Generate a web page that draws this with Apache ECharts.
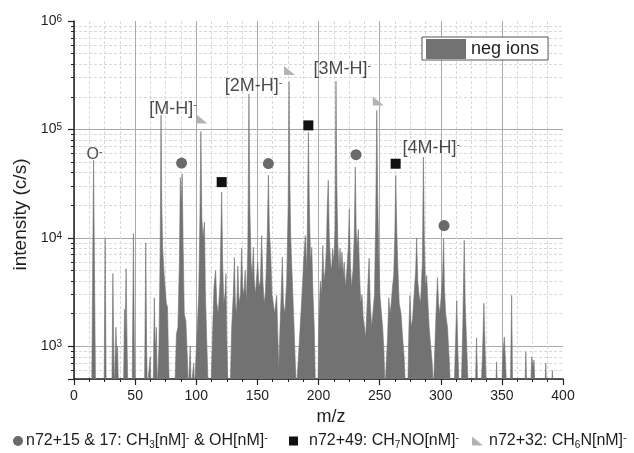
<!DOCTYPE html>
<html>
<head>
<meta charset="utf-8">
<script src="https://cdn.jsdelivr.net/npm/echarts@6/dist/echarts.min.js"></script>
<style>html,body{margin:0;padding:0;background:#fff;}#c{width:634px;height:453px;}</style>
</head>
<body>
<div id="c"></div>
<script>
// ---- data (m/z, intensity c/s) ----
var specA = [
  [14.5,400],[16,52000],[16.6,8000],[17,7700],[17.6,400],
  [24.6,400],[25.5,10000],[26.3,400],
  [31,400],[31.8,4700],[32.4,1200],[33,400],
  [33.6,400],[34.3,1500],[35,800],[35.6,1000],[36.4,400],
  [40.5,400],[41.3,2200],[41.8,1200],[42.6,5200],[43.2,1500],[44,400],
  [47.6,400],[48.6,11000],[49.3,1200],[50,400],
  [57.7,400],[58.7,9000],[59.4,1000],[60,400],
  [61.6,400],[62.3,800],[63,400],
  [64.8,400],[65.7,2800],[66.5,900],[67.4,1500],[68.1,400],
  [68.4,400],[69.5,1000],[70.5,8000],[71.2,135000],[71.8,20000],[72.5,8200],[73.5,5000],[74.5,3500],[75.5,2500],[76.5,2300],[77.3,800],[78,400],
  [82.5,400],[83.8,1300],[85,1500],[86.2,6000],[87,36000],[87.8,20000],[88.5,39000],[89.3,8000],[90.2,2000],[91.5,1700],[92.7,800],[93.5,400],
  [94.3,400],[95.1,1000],[95.8,400],
  [97.3,400],[97.9,700],[98.5,400]
];
var specB = [
  [99,400],[100.5,1200],[102,3000],[103,15000],[103.8,96000],[104.6,15000],[105.5,10000],[106.7,14000],[107.5,3000],[108.5,1200],[109.8,400],
  [112,400],[113.5,1500],[114.5,3500],[115.8,5000],[116.8,2500],[118,2000],[119.5,4000],[120.8,26500],[121.6,6000],[122.5,2500],[123.5,3000],[124.3,4700],[125,1200],[126,400],
  [127.8,400],[129,1500],[130.3,3000],[131.2,6600],[132,2500],[133,2000],[134,5500],[135,2500],[136.2,3000],[137.1,8000],[138,3500],[139,3000],[140,5000],[141,2500],[142.2,8000],[143.1,213000],[143.8,20000],[144.8,6000],[145.8,4500],[146.7,8200],[147.5,4000],[148.5,3000],[149.5,4500],[150.3,6000],[151.3,3500],[152.5,4000],[153.5,10500],[154.5,4000],[155.5,2500],[156.5,3000],[157.5,6000],[158.2,12000],[159,37800],[159.8,12000],[161,6500],[162,3000],[163,2500],[164,2000],[165.8,2950],[166.8,1200],[167.5,600],[168.5,1500],[169.5,3000],[170.4,6650],[171.3,2500],[172.5,2000],[174,4000],[175.2,20000],[175.9,275000],[176.6,30000],[177.3,10000],[178,6000],[179,3000],[180,1500],[181,700],[182,400],
  [183.5,400],[185,1500],[186.5,3000],[187.8,6000],[189.2,10500],[190.5,5000],[191.7,94000],[192.5,20000],[193.5,6000],[194.5,8200],[195.5,3000],[196.5,1500],[197.5,400]
];
var specC = [
  [199.5,400],[200.5,2000],[201.5,4000],[202.5,3000],[203.5,8500],[204.5,4000],[205.5,5000],[206.5,8000],[207.2,20000],[208,34000],[208.8,10000],[209.8,6000],[210.8,5000],[211.5,8000],[212.5,6000],[213.5,12000],[214.3,279000],[215,30000],[215.8,9000],[216.8,5000],[217.6,8000],[218.5,5000],[219.2,7400],[220.2,4500],[221,6000],[222,3500],[223.2,5000],[224.3,8000],[225.2,18500],[226,6000],[227,3500],[228.2,5000],[229.2,10000],[230.1,45000],[230.8,12000],[231.6,8000],[232.6,12000],[233.5,5000],[234.5,2500],[235.6,3000],[236.6,1800],[237.6,1500],[238.5,1200],[239.5,2000],[240.5,4000],[241.4,6500],[242.3,2500],[243.5,1500],[244.8,1500],[245.8,3000],[246.8,15000],[247.7,150000],[248.4,25000],[249.2,8000],[250.2,3000],[251.5,2000],[252.5,1500],[253.5,900],[254.4,400],
  [255.5,400],[256.5,1200],[257.5,2800],[258.5,2000],[259.5,2500],[260.5,3500],[261.5,4500],[262.4,10000],[263.2,37800],[264,12000],[265,5000],[266,2500],[267.5,2000],[268.8,1200],[270,800],[271.2,400],
  [273,400],[274,1500],[274.8,2950],[275.8,1500],[277,1800],[278.2,3000],[279.5,5000],[280.3,10000],[281.2,4000],[282.2,3000],[283.5,2500],[285,6000],[285.8,55600],[286.6,9000],[287.5,3500],[288.5,4500],[289.5,2500],[290.5,1500],[291.8,1000],[293,700],[294,400],
  [295,400],[296,1800],[297.3,4300],[298.2,2500],[299.2,2000]
];
var specD = [
  [300.5,3000],[301.5,4500],[302.3,9800],[303,3500],[304,2000],[305.5,1500],[306.8,800],[308,400],
  [311,400],[312.2,1200],[313.1,2650],[313.9,1000],[315,400],
  [316.8,400],[318,1500],[319.2,9500],[320,2500],[321,1200],[322.5,400],
  [328.3,400],[329.3,1200],[330.2,400],
  [333,400],[334.1,800],[335.3,2500],[336.2,1000],[337.3,400],
  [345,400],[345.7,720],[346.4,400],
  [349.8,400],[351,900],[352,1220],[353,700],[354,400],
  [357,400],[358,2950],[358.8,400],
  [368.8,400],[369.6,890],[370.4,400],
  [373.6,400],[374.4,800],[375.5,650],[376.3,750],[377,400],
  [385.1,400],[385.9,700],[386.6,400],
  [390.6,400],[391.3,600],[392,400]
];
var circles = [[88,49000],[159,48500],[230.7,58500],[302.7,13000]];
var squares = [[120.8,32700],[191.7,109000],[263.1,48300]];
var triangles = [[104.7,125000],[176.3,350000],[248.9,183000]];
var annotations = [
  {value:[16.8,58600], text:'O{sup|-}', small:true},
  {value:[81,155000], text:'[M-H]{sup|-}'},
  {value:[146.8,249000], text:'[2M-H]{sup|-}'},
  {value:[219.4,357000], text:'[3M-H]{sup|-}'},
  {value:[292.2,66800], text:'[4M-H]{sup|-}'}
];
var xTicks = {min:0, max:400, interval:50};
var yRange = {min:500, max:1000000};
var legendLabels = {
  'circ':'n72+15 & 17: CH{sub|3}[nM]{sup|-} & OH[nM]{sup|-}',
  'sq':'n72+49: CH{sub|7}NO[nM]{sup|-}',
  'tri':'n72+32: CH{sub|6}N[nM]{sup|-}'
};

var FONT = '"Liberation Sans", Arial, sans-serif';
var GRAY = '#727272';
var TXT = '#1e1e1e';
var spectrum = specA.concat(specB, specC, specD);
var legendRich = {
  sub:{fontSize:10, fontFamily:FONT, color:TXT, verticalAlign:'bottom', lineHeight:10},
  sup:{fontSize:11, fontFamily:FONT, color:TXT, verticalAlign:'top', lineHeight:10}
};
function bottomLegend(name, left, w, h, padLeft){
  return {
    data:[name], left:left, top:432, padding:0, itemWidth:w, itemHeight:h,
    selectedMode:false,
    formatter:function(n){return legendLabels[n];},
    textStyle:{fontSize:16, fontFamily:FONT, color:TXT, lineHeight:18, rich:legendRich,
               padding:[0,0,0,padLeft]}
  };
}

var chart = echarts.init(document.getElementById('c'), null, {renderer:'canvas'});
chart.setOption({
  animation:false,
  backgroundColor:'#fff',
  grid:{left:74, right:71, top:21, bottom:74},
  legend:[
    {data:[{name:'neg ions', icon:'rect'}], left:422, top:37, orient:'horizontal',
     itemWidth:40, itemHeight:20, padding:[2,9,1,4], borderColor:'#555', borderWidth:1,
     backgroundColor:'#fff', selectedMode:false,
     textStyle:{fontSize:18, fontFamily:FONT, color:TXT}},
    bottomLegend('circ', 13, 10, 10, -2),
    bottomLegend('sq', 289, 9, 9, 6),
    bottomLegend('tri', 472, 11, 9, 1)
  ],
  xAxis:{
    type:'value', min:xTicks.min, max:xTicks.max, interval:xTicks.interval,
    name:'m/z', nameLocation:'middle', nameGap:27,
    nameTextStyle:{fontSize:18, fontFamily:FONT, color:TXT, padding:[0,0,0,25]},
    axisLine:{show:true, lineStyle:{color:'#222', width:1.5}},
    axisTick:{show:true, inside:false, length:6, lineStyle:{color:'#222', width:1.2}},
    minorTick:{show:true, splitNumber:4, length:3, lineStyle:{color:'#222', width:1}},
    axisLabel:{fontSize:14, fontFamily:FONT, color:TXT, margin:10},
    splitLine:{show:true, showMaxLine:false, lineStyle:{color:'#a9a9a9', width:1}},
    minorSplitLine:{show:true, lineStyle:{color:'#d9d9d9', width:1, type:[3,2]}}
  },
  yAxis:{
    type:'log', logBase:10, min:yRange.min, max:yRange.max,
    name:'intensity (c/s)', nameLocation:'middle', nameGap:44, nameRotate:90,
    nameTextStyle:{fontSize:19, fontFamily:FONT, color:TXT, padding:[0,29,0,0]},
    axisLine:{show:true, lineStyle:{color:'#222', width:1.5}},
    axisTick:{show:true, inside:false, length:6, lineStyle:{color:'#222', width:1.2}},
    minorTick:{show:true, splitNumber:9, length:3, lineStyle:{color:'#222', width:1}},
    axisLabel:{
      fontSize:14, fontFamily:FONT, color:TXT, margin:12,
      formatter:function(v){
        var e = Math.round(Math.log(v)/Math.LN10);
        if (Math.abs(v - Math.pow(10,e)) > 1e-6*v) return '';
        return '10{sup|'+e+'}';
      },
      rich:{sup:{fontSize:10, fontFamily:FONT, color:TXT, verticalAlign:'top', lineHeight:9}}
    },
    splitLine:{show:true, showMaxLine:false, lineStyle:{color:'#a9a9a9', width:1}},
    minorSplitLine:{show:true, lineStyle:{color:'#d9d9d9', width:1, type:[3,2]}}
  },
  series:[
    {name:'neg ions', type:'line', data:spectrum, symbol:'none', showSymbol:false,
     clip:true, z:2, silent:true, color:GRAY,
     itemStyle:{color:GRAY},
     lineStyle:{color:GRAY, width:0.6},
     areaStyle:{color:GRAY, opacity:1}},
    {name:'circ', type:'scatter', data:circles, symbol:'circle', symbolSize:11, z:5,
     itemStyle:{color:'#6a6a6a', opacity:1}},
    {name:'sq', type:'scatter', data:squares, symbol:'rect', symbolSize:10, z:5,
     itemStyle:{color:'#111', opacity:1}},
    {name:'tri', type:'scatter', data:triangles, symbol:'path://M0,0L0,9L11,9Z', symbolSize:[11,9], z:5,
     itemStyle:{color:'#b3b3b3', opacity:1}},
    {name:'ann', type:'scatter', z:6, silent:true, symbolSize:1,
     itemStyle:{color:'rgba(0,0,0,0)'},
     data:annotations.map(function(a){
       return {value:a.value, label:{show:true, position:'inside', formatter:a.text,
         fontSize:a.small?16:18, fontFamily:FONT, color:TXT,
         rich:{sup:{fontSize:11, fontFamily:FONT, color:TXT, verticalAlign:'top', lineHeight:10}}}};
     })}
  ]
});
</script>
</body>
</html>
